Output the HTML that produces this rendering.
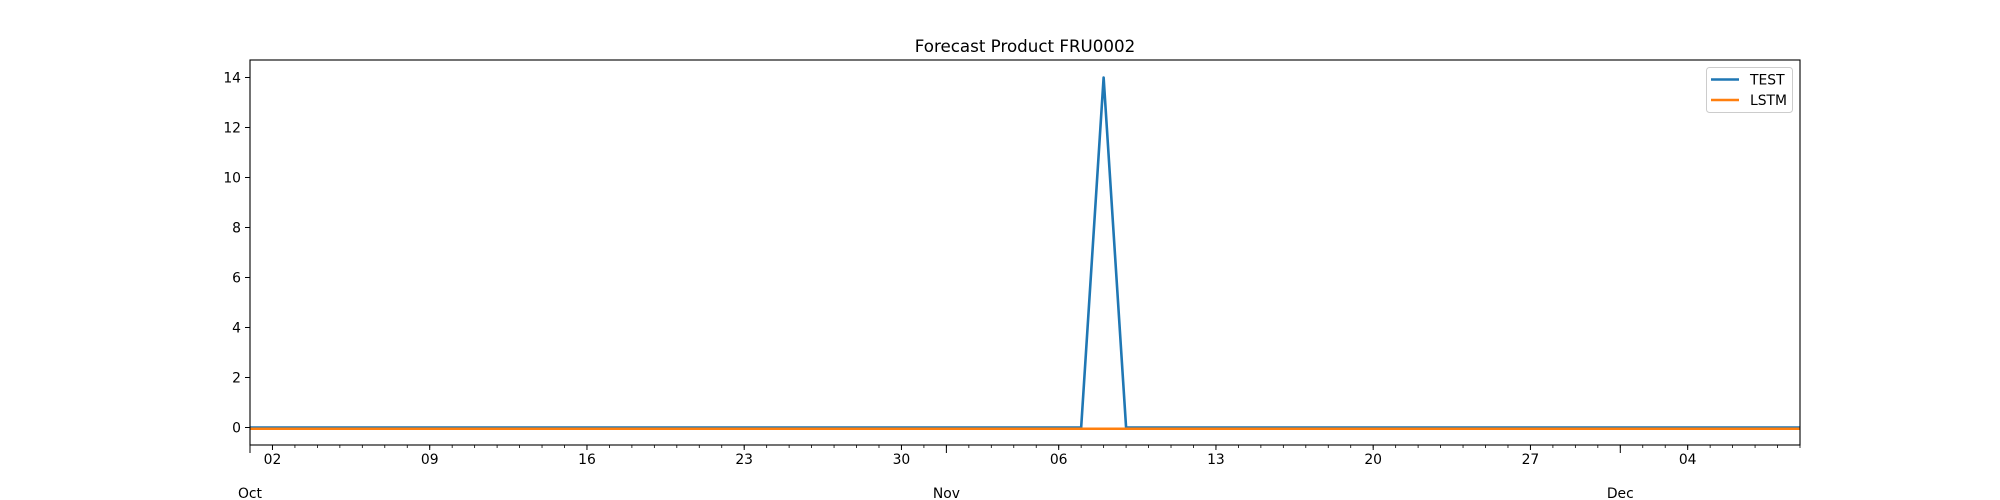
<!DOCTYPE html>
<html><head><meta charset="utf-8"><style>
html,body{margin:0;padding:0;background:#fff;}
svg{display:block;font-family:"DejaVu Sans","Liberation Sans",sans-serif;}
</style></head><body>
<svg id="chart" width="2000" height="500" xmlns="http://www.w3.org/2000/svg">
<rect width="2000" height="500" fill="#fff"/>
<text x="1025" y="52" font-size="16.7" text-anchor="middle">Forecast Product FRU0002</text>
<g id="grid"></g>
<g id="series"></g>
<rect x="250" y="60" width="1550" height="385" fill="none" stroke="#000" stroke-width="1.1"/>
<g id="axes"></g>
<g>
<rect x="1706.5" y="67.5" width="86" height="45" rx="3" fill="#fff" fill-opacity="0.8" stroke="#ccc" stroke-width="1"/>
<line x1="1711" y1="79.5" x2="1739" y2="79.5" stroke="#1f77b4" stroke-width="2.6"/>
<text x="1750" y="84.5" font-size="13.9">TEST</text>
<line x1="1711" y1="100" x2="1739" y2="100" stroke="#ff7f0e" stroke-width="2.6"/>
<text x="1750" y="105" font-size="13.9">LSTM</text>
</g>
</svg>
<script>
// days since Oct 1
const days = Array.from({length: 70}, (_, i) => i);
const testValues = days.map(d => 0);
testValues[38] = 14;
const lstmValues = days.map(d => -0.05);
const yTicks = [0, 2, 4, 6, 8, 10, 12, 14];
const weekTickDays = [1, 8, 15, 22, 29, 36, 43, 50, 57, 64];
const weekTickLabels = ["02", "09", "16", "23", "30", "06", "13", "20", "27", "04"];
const monthTickDays = [0, 31, 61];
const monthLabels = ["Oct", "Nov", "Dec"];

const NS = "http://www.w3.org/2000/svg";
const X0 = 250, X1 = 1800, Y0 = 445, Y1 = 60;
const xMin = 0, xMax = 69, yMin = -0.7, yMax = 14.7;
function xs(d) { return X0 + (d - xMin) / (xMax - xMin) * (X1 - X0); }
function ys(v) { return Y0 - (v - yMin) / (yMax - yMin) * (Y0 - Y1); }
function mk(tag, attrs, parent) {
  const el = document.createElementNS(NS, tag);
  for (const k in attrs) el.setAttribute(k, attrs[k]);
  parent.appendChild(el);
  return el;
}
const axes = document.getElementById('axes');
const series = document.getElementById('series');

// clip
const defs = mk('defs', {}, document.getElementById('chart'));
const cp = mk('clipPath', {id: 'clip'}, defs);
mk('rect', {x: X0, y: Y1, width: X1 - X0, height: Y0 - Y1}, cp);
series.setAttribute('clip-path', 'url(#clip)');

function line(vals, color, name) {
  const pts = days.map((d, i) => xs(d).toFixed(2) + ',' + ys(vals[i]).toFixed(2)).join(' ');
  const p = mk('polyline', {points: pts, fill: 'none', stroke: color, 'stroke-width': 2.6, 'stroke-linejoin': 'round'}, series);
  
  
}
line(testValues, '#1f77b4', 'test-line');
line(lstmValues, '#ff7f0e', 'lstm-line');

yTicks.forEach(v => {
  const t = mk('line', {x1: X0 - 5, x2: X0, y1: ys(v), y2: ys(v), stroke: '#000', 'stroke-width': 1}, axes);
  
  
  const l = mk('text', {x: X0 - 9, y: ys(v) + 5, 'font-size': 13.9, 'text-anchor': 'end'}, axes);
  l.textContent = v;
  
  
});
for (let d = 0; d <= xMax; d++) {
  const t = mk('line', {x1: xs(d), x2: xs(d), y1: Y0, y2: Y0 + 3, stroke: '#000', 'stroke-width': 0.8}, axes);
  
  
}
weekTickDays.forEach((d, i) => {
  const t = mk('line', {x1: xs(d), x2: xs(d), y1: Y0, y2: Y0 + 5, stroke: '#000', 'stroke-width': 1}, axes);
  
  
  const l = mk('text', {x: xs(d), y: Y0 + 19, 'font-size': 13.9, 'text-anchor': 'middle'}, axes);
  l.textContent = weekTickLabels[i];
  
  
});
monthTickDays.forEach((d, i) => {
  const t = mk('line', {x1: xs(d), x2: xs(d), y1: Y0, y2: Y0 + 8, stroke: '#000', 'stroke-width': 1}, axes);
  
  
  const l = mk('text', {x: xs(d), y: Y0 + 53, 'font-size': 13.9, 'text-anchor': 'middle'}, axes);
  l.textContent = monthLabels[i];
  
  
});
</script>
</body></html>
